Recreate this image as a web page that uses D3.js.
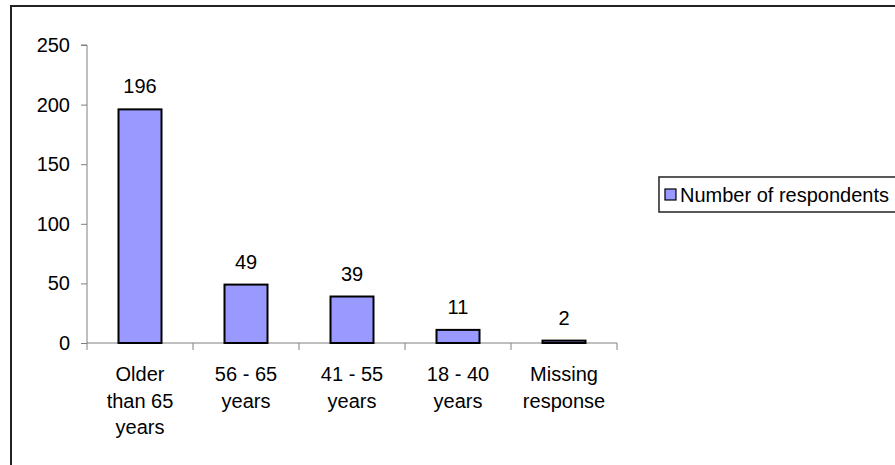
<!DOCTYPE html>
<html>
<head>
<meta charset="utf-8">
<script src="https://cdn.jsdelivr.net/npm/d3@7"></script>
<style>
  html, body { margin: 0; padding: 0; background: #fff; }
  svg { display: block; }
  text { font-family: Arial, "Liberation Sans", sans-serif; fill: #000; }
</style>
</head>
<body>
<svg id="chart" width="895" height="465"></svg>
<script>
const categories = ["Older than 65 years", "56 - 65 years", "41 - 55 years", "18 - 40 years", "Missing response"];
const tickLabelLines = [["Older", "than 65", "years"], ["56 - 65", "years"], ["41 - 55", "years"], ["18 - 40", "years"], ["Missing", "response"]];
const values = [196, 49, 39, 11, 2];
const yTicks = [0, 50, 100, 150, 200, 250];
const seriesName = "Number of respondents";

const svg = d3.select("#chart");
const FS = 20;

// outer frame (clipped at right and bottom)
svg.append("rect").attr("x", 11).attr("y", 6).attr("width", 1000).attr("height", 1000)
  .attr("fill", "none").attr("stroke", "#222").attr("stroke-width", 2);

const x = d3.scaleBand().domain(categories).range([87, 617]).padding(0);
const y = d3.scaleLinear().domain([0, 250]).range([343, 45]);

// y axis
const yAxis = svg.append("g").attr("transform", "translate(87,0)")
  .call(d3.axisLeft(y).tickValues(yTicks).tickSize(6).tickPadding(11).tickFormat(d3.format("d")));
yAxis.select(".domain").attr("stroke", "#808080").attr("d", `M-6,${y(250)}H0V${y(0)}`);
yAxis.selectAll(".tick line").attr("stroke", "#808080");
yAxis.selectAll(".tick text").style("font-size", FS + "px").attr("fill", "#000");

// x axis
const xAxis = svg.append("g").attr("transform", `translate(0,${y(0)})`)
  .call(d3.axisBottom(x).tickSize(0).tickFormat(""));
xAxis.select(".domain").attr("stroke", "#808080").attr("d", `M87,0H617`);
xAxis.selectAll(".tick").remove();
const bounds = categories.map(c => x(c)).concat([x(categories[categories.length - 1]) + x.bandwidth()]);
xAxis.selectAll("line.sep").data(bounds).enter().append("line")
  .attr("x1", d => d).attr("x2", d => d).attr("y1", 0).attr("y2", 7)
  .attr("stroke", "#808080");

// x tick labels
categories.forEach((c, i) => {
  const t = svg.append("text").attr("text-anchor", "middle").style("font-size", FS + "px")
    .attr("x", x(c) + x.bandwidth() / 2);
  tickLabelLines[i].forEach((ln, j) => {
    t.append("tspan").attr("x", x(c) + x.bandwidth() / 2).attr("y", 374 + j * 26.5)
      .attr("dominant-baseline", "central").text(ln);
  });
});

// bars
const bw = 43;
svg.selectAll("rect.bar").data(values).enter().append("rect")
  .attr("class", "bar")
  .attr("x", (d, i) => x(categories[i]) + x.bandwidth() / 2 - bw / 2)
  .attr("y", d => y(d))
  .attr("width", bw)
  .attr("height", d => y(0) - y(d))
  .attr("fill", "#9999FF").attr("stroke", "#000").attr("stroke-width", 2);

// value labels
svg.selectAll("text.val").data(values).enter().append("text")
  .attr("class", "val").attr("text-anchor", "middle").style("font-size", FS + "px")
  .attr("dominant-baseline", "central")
  .attr("x", (d, i) => x(categories[i]) + x.bandwidth() / 2)
  .attr("y", d => y(d) - 23)
  .text(d => d);

// legend
const lg = svg.append("g");
const lgText = lg.append("text").style("font-size", FS + "px").attr("dominant-baseline", "central")
  .attr("y", 195).text(seriesName);
const tw = lgText.node().getComputedTextLength();
const textEnd = 889;
lgText.attr("x", textEnd - tw);
const mx = textEnd - tw - 15;
lg.insert("rect", "text").attr("x", mx - 6).attr("y", 177).attr("width", 1000).attr("height", 35)
  .attr("fill", "#fff").attr("stroke", "#222").attr("stroke-width", 1.5);
lg.append("rect").attr("x", mx).attr("y", 189).attr("width", 11).attr("height", 11)
  .attr("fill", "#9999FF").attr("stroke", "#000").attr("stroke-width", 1.2);
</script>
</body>
</html>
